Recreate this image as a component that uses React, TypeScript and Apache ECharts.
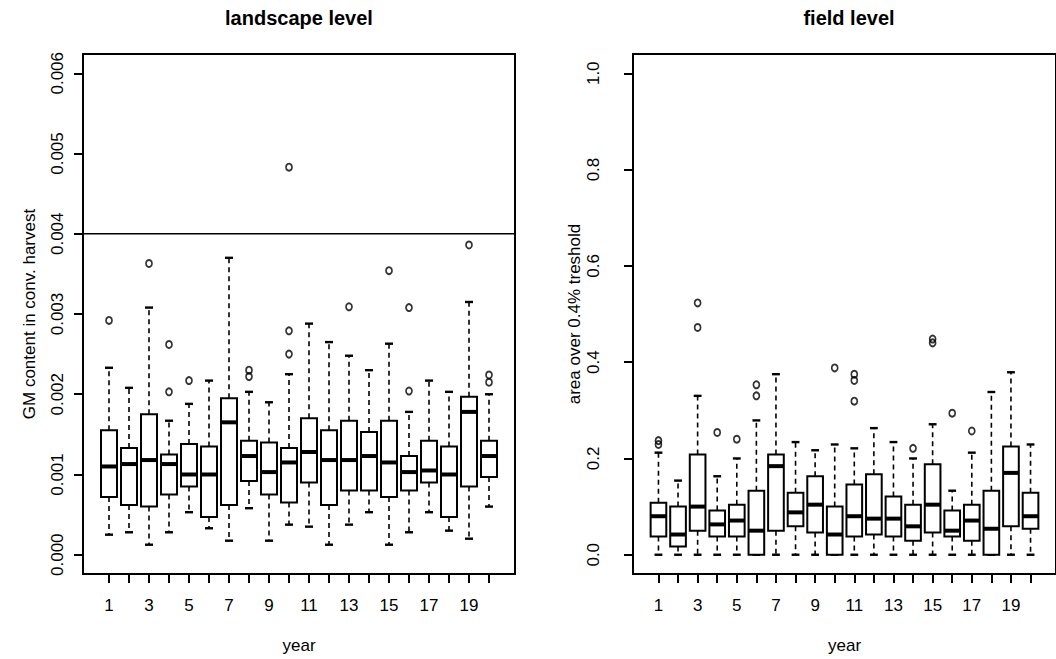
import { useEffect, useRef } from "react";
import * as echarts from "echarts";

const years = [1, 2, 3, 4, 5, 6, 7, 8, 9, 10, 11, 12, 13, 14, 15, 16, 17, 18, 19, 20];
const xLabels = [1, 3, 5, 7, 9, 11, 13, 15, 17, 19];
const xMin = -0.3;
const xMax = 21.3;

// landscape level (GM content in conv. harvest)
const landLow = [0.00025, 0.00028, 0.000125, 0.00028, 0.00053, 0.00033, 0.000175, 0.00058, 0.000175, 0.000375, 0.00035, 0.000125, 0.000375, 0.00053, 0.000125, 0.00028, 0.00053, 0.0003, 0.0002, 0.0006];
const landQ1 = [0.00072, 0.00062, 0.0006, 0.00075, 0.00085, 0.00047, 0.00062, 0.00092, 0.00075, 0.00065, 0.0009, 0.00062, 0.0008, 0.0008, 0.00072, 0.0008, 0.0009, 0.00047, 0.00085, 0.00097];
const landMed = [0.0011, 0.00113, 0.00118, 0.00113, 0.001, 0.001, 0.00165, 0.00123, 0.00103, 0.00115, 0.00128, 0.00118, 0.00118, 0.00123, 0.00115, 0.00103, 0.00105, 0.001, 0.00178, 0.00123];
const landQ3 = [0.00155, 0.00133, 0.00175, 0.00125, 0.00138, 0.00135, 0.00195, 0.00142, 0.0014, 0.00133, 0.0017, 0.00155, 0.00167, 0.00153, 0.00167, 0.00123, 0.00142, 0.00135, 0.00197, 0.00142];
const landHigh = [0.00233, 0.00208, 0.00308, 0.00167, 0.00188, 0.00217, 0.0037, 0.00203, 0.0019, 0.00225, 0.00288, 0.00265, 0.00248, 0.0023, 0.00263, 0.00178, 0.00217, 0.00203, 0.00315, 0.002];
const landOut = [[0.00292], [], [0.00363], [0.00262, 0.00203], [0.00217], [], [], [0.0023, 0.00222], [], [0.00483, 0.00279, 0.0025], [], [], [0.00309], [], [0.00354], [0.00308, 0.00204], [], [], [0.00386], [0.00224, 0.00215]];
const landTicks = [0, 0.001, 0.002, 0.003, 0.004, 0.005, 0.006];
const threshold = 0.004;

// field level (area over 0.4% treshold)
const fieldLow = [0, 0, 0, 0, 0, 0, 0, 0, 0, 0, 0, 0, 0, 0, 0, 0, 0, 0, 0, 0];
const fieldQ1 = [0.038, 0.017, 0.05, 0.038, 0.038, 0, 0.05, 0.059, 0.046, 0, 0.038, 0.042, 0.038, 0.029, 0.046, 0.038, 0.029, 0, 0.059, 0.054];
const fieldMed = [0.08, 0.042, 0.1, 0.063, 0.071, 0.05, 0.184, 0.088, 0.104, 0.042, 0.08, 0.075, 0.075, 0.059, 0.104, 0.05, 0.071, 0.054, 0.17, 0.08];
const fieldQ3 = [0.108, 0.1, 0.208, 0.092, 0.104, 0.133, 0.208, 0.129, 0.163, 0.1, 0.146, 0.167, 0.121, 0.104, 0.188, 0.092, 0.104, 0.133, 0.225, 0.129];
const fieldHigh = [0.212, 0.154, 0.33, 0.163, 0.2, 0.279, 0.375, 0.234, 0.217, 0.229, 0.221, 0.263, 0.234, 0.2, 0.271, 0.133, 0.212, 0.338, 0.379, 0.229];
const fieldOut = [[0.237, 0.229], [], [0.523, 0.472], [0.254], [0.24], [0.353, 0.33], [], [], [], [0.388], [0.375, 0.362, 0.319], [], [], [0.221], [0.448, 0.44], [0.294], [0.257], [], [], []];
const fieldTicks = [0, 0.2, 0.4, 0.6, 0.8, 1.0];

const FONT = "Liberation Sans, Arial, Helvetica, sans-serif";

function boxData(low: number[], q1: number[], med: number[], q3: number[], high: number[]) {
  return years.map((y, i) => [y, low[i], q1[i], med[i], q3[i], high[i]]);
}
function outData(out: number[][]) {
  const res: number[][] = [];
  years.forEach((y, i) => out[i].forEach((v) => res.push([y, v])));
  return res;
}

function renderBox(_params: any, api: any) {
  const x = api.value(0);
  const pLow = api.coord([x, api.value(1)]);
  const pQ1 = api.coord([x, api.value(2)]);
  const pMed = api.coord([x, api.value(3)]);
  const pQ3 = api.coord([x, api.value(4)]);
  const pHigh = api.coord([x, api.value(5)]);
  const half = api.size([0.8, 0])[0] / 2;
  const cx = pMed[0];
  const dash = { stroke: "#000", lineWidth: 1.6, lineDash: [5, 4], fill: null };
  const solid = { stroke: "#000", lineWidth: 2.4, fill: null };
  return {
    type: "group",
    children: [
      { type: "line", shape: { x1: cx, y1: pQ3[1], x2: cx, y2: pHigh[1] }, style: dash },
      { type: "line", shape: { x1: cx, y1: pQ1[1], x2: cx, y2: pLow[1] }, style: dash },
      { type: "line", shape: { x1: cx - half / 2, y1: pHigh[1], x2: cx + half / 2, y2: pHigh[1] }, style: solid },
      { type: "line", shape: { x1: cx - half / 2, y1: pLow[1], x2: cx + half / 2, y2: pLow[1] }, style: solid },
      {
        type: "rect",
        shape: { x: cx - half, y: pQ3[1], width: half * 2, height: pQ1[1] - pQ3[1] },
        style: { fill: "#fff", stroke: "#000", lineWidth: 2 },
      },
      { type: "line", shape: { x1: cx - half, y1: pMed[1], x2: cx + half, y2: pMed[1] }, style: { stroke: "#000", lineWidth: 4 } },
    ],
  };
}

function xAxis(gridIndex: number) {
  return {
    type: "value",
    gridIndex,
    min: xMin,
    max: xMax,
    splitLine: { show: false },
    axisLine: { show: false, onZero: false },
    axisTick: { show: true, customValues: years, length: 9, lineStyle: { color: "#000", width: 2 } },
    axisLabel: { customValues: xLabels, margin: 23, fontSize: 17, color: "#000", fontFamily: FONT },
    name: "year",
    nameLocation: "middle",
    nameGap: 63,
    nameTextStyle: { fontSize: 17, color: "#000", fontFamily: FONT },
  };
}

function yAxis(gridIndex: number, min: number, max: number, ticks: number[], digits: number, name: string, margin: number, nameGap: number) {
  return {
    type: "value",
    gridIndex,
    min,
    max,
    splitLine: { show: false },
    axisLine: { show: false, onZero: false },
    axisTick: { show: true, customValues: ticks, length: 9, lineStyle: { color: "#000", width: 2 } },
    axisLabel: {
      customValues: ticks,
      rotate: 90,
      margin,
      fontSize: 17,
      color: "#000",
      fontFamily: FONT,
      formatter: (v: number) => v.toFixed(digits),
    },
    name,
    nameLocation: "middle",
    nameRotate: 90,
    nameGap,
    nameTextStyle: { fontSize: 17, color: "#000", fontFamily: FONT },
  };
}

const outlierStyle = {
  type: "scatter",
  symbol: "circle",
  symbolSize: [6, 7],
  itemStyle: { color: "rgba(0,0,0,0)", borderColor: "#000", borderWidth: 1.8 },
  silent: true,
  z: 3,
};

export default function App() {
  const ref = useRef<HTMLDivElement>(null);
  useEffect(() => {
    const chart = echarts.init(ref.current!, null, { renderer: "svg" });
    chart.setOption({
      animation: false,
      backgroundColor: "#fff",
      graphic: [
        { type: "text", x: 299, y: 18, style: { text: "landscape level", align: "center", verticalAlign: "middle", fontSize: 20, fontWeight: "bold", fontFamily: FONT, fill: "#000" } },
        { type: "text", x: 849, y: 18, style: { text: "field level", align: "center", verticalAlign: "middle", fontSize: 20, fontWeight: "bold", fontFamily: FONT, fill: "#000" } },
      ],
      grid: [
        { left: 83, top: 54, width: 432, height: 520, show: true, borderColor: "#000", borderWidth: 2, backgroundColor: "transparent" },
        { left: 633, top: 54, width: 432, height: 520, show: true, borderColor: "#000", borderWidth: 2, backgroundColor: "transparent" },
      ],
      xAxis: [xAxis(0), xAxis(1)],
      yAxis: [
        yAxis(0, -0.00024, 0.00624, landTicks, 3, "GM content in conv. harvest", 17, 45),
        yAxis(1, -0.04, 1.04, fieldTicks, 1, "area over 0.4% treshold", 31, 50),
      ],
      series: [
        {
          type: "line",
          xAxisIndex: 0,
          yAxisIndex: 0,
          data: [[xMin, threshold], [xMax, threshold]],
          showSymbol: false,
          symbol: "none",
          lineStyle: { color: "#000", width: 1.5 },
          silent: true,
          z: 1,
        },
        {
          type: "custom",
          xAxisIndex: 0,
          yAxisIndex: 0,
          renderItem: renderBox,
          data: boxData(landLow, landQ1, landMed, landQ3, landHigh),
          silent: true,
          z: 2,
        },
        {
          ...outlierStyle,
          xAxisIndex: 0,
          yAxisIndex: 0,
          data: outData(landOut),
        },
        {
          type: "custom",
          xAxisIndex: 1,
          yAxisIndex: 1,
          renderItem: renderBox,
          data: boxData(fieldLow, fieldQ1, fieldMed, fieldQ3, fieldHigh),
          silent: true,
          z: 2,
        },
        {
          ...outlierStyle,
          xAxisIndex: 1,
          yAxisIndex: 1,
          data: outData(fieldOut),
        },
      ],
    });
    return () => chart.dispose();
  }, []);
  return <div ref={ref} style={{ position: "fixed", left: 0, top: 0, width: 1056, height: 659, background: "#fff" }} />;
}
